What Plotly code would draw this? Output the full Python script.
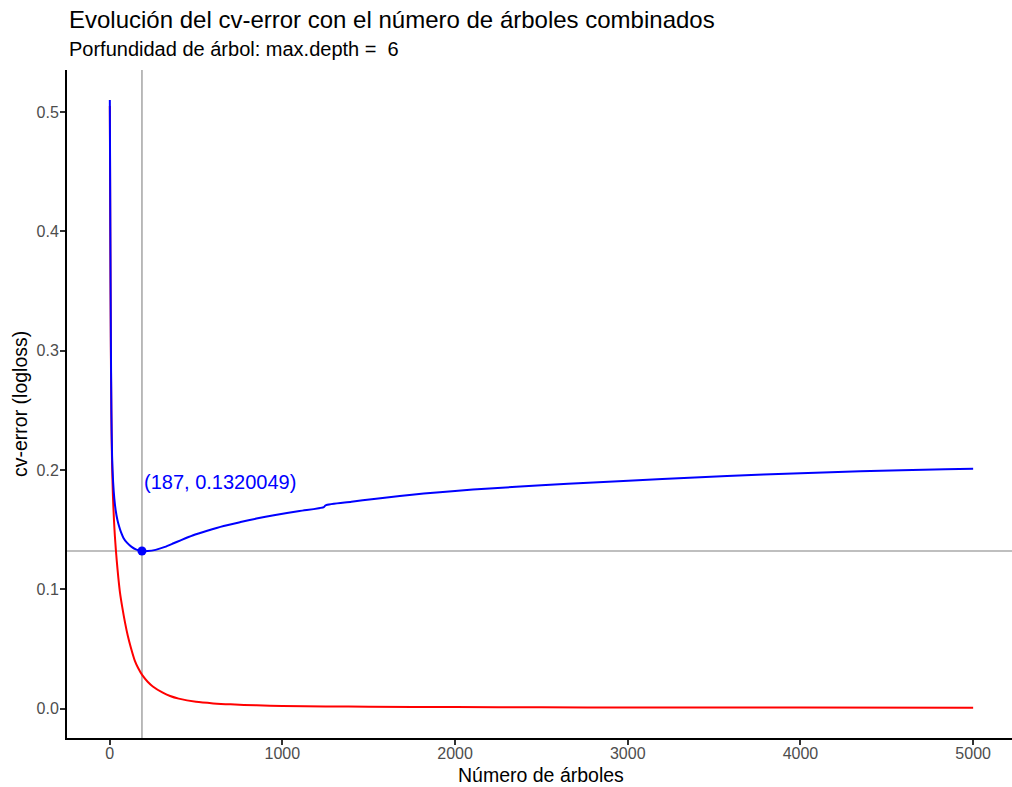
import plotly.graph_objects as go

# --- data ---
trees_test = [1, 4, 7, 10, 14, 20, 27, 35, 45, 55, 65, 80, 100, 127, 155, 187, 220, 266, 320, 370,
              411, 480, 565, 660, 758, 850, 951, 1100, 1240, 1250, 1400, 1530, 1680, 1819, 2000,
              2200, 2500, 2801, 3200, 3575, 4000, 4346, 4838, 5000]
cv_test = [0.510, 0.400, 0.310, 0.250, 0.212, 0.190, 0.176, 0.166, 0.158, 0.1525, 0.148, 0.1430,
           0.1390, 0.1355, 0.1332, 0.1320, 0.1320, 0.1330, 0.1355, 0.1385, 0.1410, 0.1450, 0.1490,
           0.1530, 0.1563, 0.1592, 0.1620, 0.1655, 0.1688, 0.1703, 0.1733, 0.1757, 0.1782, 0.1802,
           0.1824, 0.1845, 0.1871, 0.1895, 0.1924, 0.1950, 0.1973, 0.1988, 0.2005, 0.2010]

trees_train = [1, 4, 7, 10, 14, 19, 25, 30, 36, 41, 50, 60, 73, 89, 105, 123, 146, 165, 189, 220,
               250, 305, 350, 400, 500, 600, 700, 850, 1000, 1250, 1500, 2000, 2500, 3000, 4000, 5000]
cv_train = [0.505, 0.390, 0.300, 0.245, 0.205, 0.178, 0.158, 0.145, 0.133, 0.124, 0.110, 0.097,
            0.085, 0.072, 0.061, 0.051, 0.040, 0.034, 0.028, 0.0225, 0.0185, 0.0135, 0.0105, 0.0083,
            0.0056, 0.0043, 0.0035, 0.0027, 0.0022, 0.0018, 0.0015, 0.0012, 0.0010, 0.0009, 0.0008,
            0.0007]

best_iter = 187
best_value = 0.1320049

x_ticks = [0, 1000, 2000, 3000, 4000, 5000]
y_ticks = [0.0, 0.1, 0.2, 0.3, 0.4, 0.5]
y_tick_labels = ["0.0", "0.1", "0.2", "0.3", "0.4", "0.5"]

title_text = "Evolución del cv-error con el número de árboles combinados"
subtitle_text = "Porfundidad de árbol: max.depth =  6"
x_title = "Número de árboles"
y_title = "cv-error (logloss)"
label_text = "(187, 0.1320049)"
label_y = 0.19

FONT = "Liberation Sans, Arial, Helvetica, sans-serif"

fig = go.Figure()

fig.add_trace(go.Scatter(x=trees_train, y=cv_train, mode="lines",
                         line=dict(color="#FF0000", width=2, shape="spline", smoothing=0.7),
                         showlegend=False, hoverinfo="skip"))
fig.add_trace(go.Scatter(x=trees_test, y=cv_test, mode="lines",
                         line=dict(color="#0000FF", width=2, shape="spline", smoothing=0.7),
                         showlegend=False, hoverinfo="skip"))
fig.add_trace(go.Scatter(x=[best_iter], y=[best_value], mode="markers",
                         marker=dict(color="#0000FF", size=9),
                         showlegend=False, hoverinfo="skip"))

# reference lines
fig.add_shape(type="line", xref="x", yref="paper", x0=best_iter, x1=best_iter, y0=0, y1=1,
              line=dict(color="#AAAAAA", width=1.6), layer="below")
fig.add_shape(type="line", xref="paper", yref="y", x0=0, x1=1, y0=best_value, y1=best_value,
              line=dict(color="#AAAAAA", width=1.6), layer="below")

fig.add_annotation(x=best_iter, y=label_y, xref="x", yref="y", text=label_text,
                   showarrow=False, xanchor="left", yanchor="middle",
                   font=dict(family=FONT, size=20, color="#0000FF"))

# titles
fig.add_annotation(x=0, y=1 + 50.5 / 668, xref="paper", yref="paper", text=title_text,
                   showarrow=False, xanchor="left", yanchor="middle",
                   font=dict(family=FONT, size=24, color="black"))
fig.add_annotation(x=0, y=1 + 21 / 668, xref="paper", yref="paper", text=subtitle_text,
                   showarrow=False, xanchor="left", yanchor="middle",
                   font=dict(family=FONT, size=20, color="black"))
fig.add_annotation(x=(541 - 67) / 945, y=-(775 - 737.7) / 668, xref="paper", yref="paper",
                   text=x_title, showarrow=False, xanchor="center", yanchor="middle",
                   font=dict(family=FONT, size=19.5, color="black"))
fig.add_annotation(x=-(67 - 20) / 945, y=0.5, xref="paper", yref="paper",
                   text=y_title, showarrow=False, textangle=-90,
                   xanchor="center", yanchor="middle",
                   font=dict(family=FONT, size=19.5, color="black"))

fig.update_layout(
    width=1012, height=787,
    margin=dict(l=67, r=0, t=70, b=49),
    paper_bgcolor="white", plot_bgcolor="white",
    font=dict(family=FONT),
    xaxis=dict(range=[-247, 5225], tickvals=x_ticks, showgrid=False, zeroline=False,
               showline=True, linecolor="black", linewidth=2, ticks="outside", ticklen=5,
               tickwidth=2, tickcolor="#333333", ticklabelstandoff=-5,
               tickfont=dict(family=FONT, size=16, color="#4D4D4D")),
    yaxis=dict(range=[-0.0247, 0.5352], tickvals=y_ticks, ticktext=y_tick_labels,
               showgrid=False, zeroline=False,
               showline=True, linecolor="black", linewidth=2, ticks="outside", ticklen=5,
               tickwidth=2, tickcolor="#333333", ticklabelstandoff=-2,
               tickfont=dict(family=FONT, size=16, color="#4D4D4D")),
)

fig.write_html("out.html")
